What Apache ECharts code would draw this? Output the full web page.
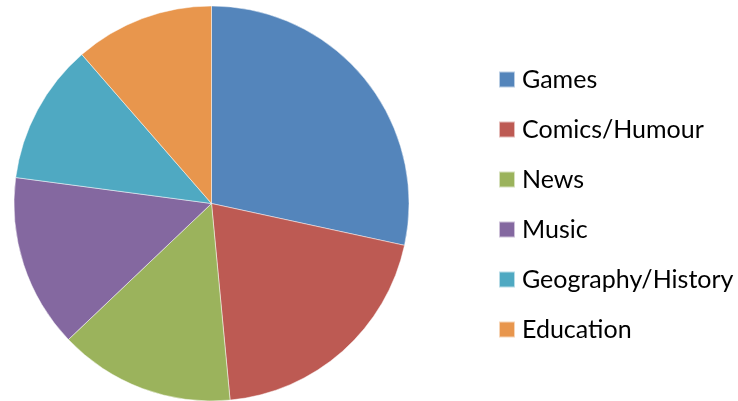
<!DOCTYPE html>
<html>
<head>
<meta charset="utf-8">
<style>
  html, body { margin: 0; padding: 0; background: #fff; }
  #chart { width: 738px; height: 401px; }
</style>
<script src="https://cdn.jsdelivr.net/npm/echarts@6/dist/echarts.min.js"></script>
</head>
<body>
<div id="chart"></div>
<script>
// Genre share (percent of total)
const categories = ['Games', 'Comics/Humour', 'News', 'Music', 'Geography/History', 'Education'];
const shares = [28.4, 20.1, 14.4, 14.2, 11.5, 11.4];
const colors = ['#5485BB', '#BD5A53', '#9BB35C', '#8468A0', '#4FA9C2', '#E8964D'];

const chart = echarts.init(document.getElementById('chart'), null, { renderer: 'canvas' });

chart.setOption({
  animation: false,
  color: colors,
  legend: {
    orient: 'vertical',
    left: 498,
    top: 64.5,
    padding: 0,
    itemWidth: 16,
    itemHeight: 16,
    itemGap: 20,
    icon: 'rect',
    data: categories,
    selectedMode: false,
    textStyle: {
      fontFamily: 'Lato',
      fontSize: 25,
      lineHeight: 30,
      color: '#000',
      padding: [0, 0, 0, 2]
    }
  },
  series: [{
    type: 'pie',
    center: [211.5, 203.5],
    radius: 197.5,
    startAngle: 90,
    clockwise: true,
    label: { show: false },
    labelLine: { show: false },
    emphasis: { disabled: true },
    itemStyle: { borderColor: 'rgba(255,255,255,0.6)', borderWidth: 0.8 },
    data: categories.map((name, i) => ({ name, value: shares[i] }))
  }]
});
</script>
</body>
</html>
